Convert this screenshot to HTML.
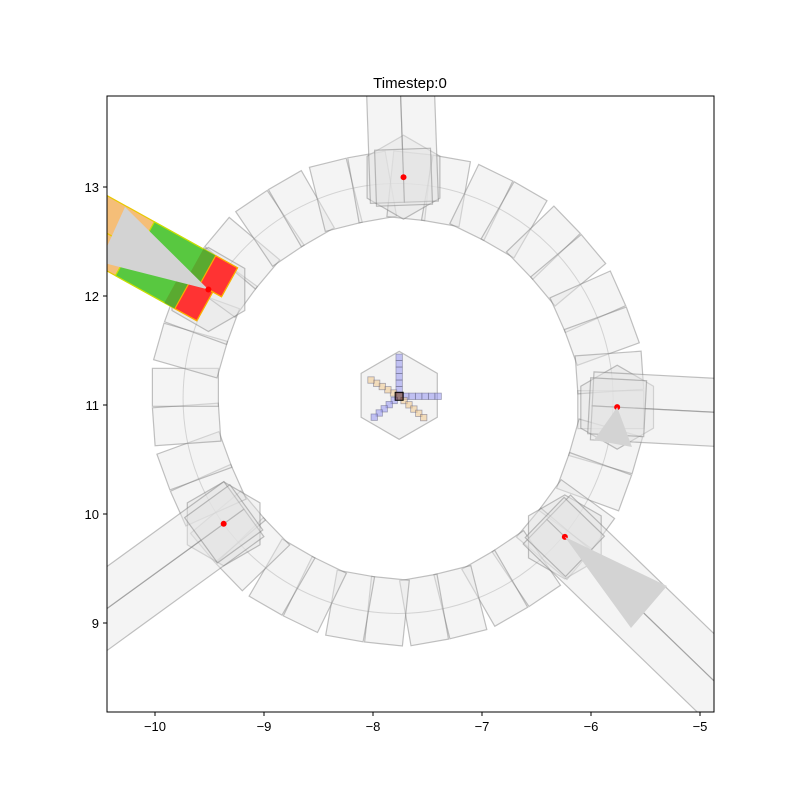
<!DOCTYPE html>
<html><head><meta charset="utf-8"><style>
html,body{margin:0;padding:0;background:#fff;}
svg{display:block;font-family:"Liberation Sans",sans-serif;}
</style></head><body>
<svg id="chart" width="800" height="800" viewBox="0 0 800 800">
<defs><clipPath id="clip"><rect x="107" y="96" width="607" height="616"/></clipPath></defs>
<rect x="0" y="0" width="800" height="800" fill="#fff"/>
<g id="plot" clip-path="url(#clip)"></g>
<rect x="107" y="96" width="607" height="616" fill="none" stroke="#000" stroke-width="1"/>
<g id="axes"></g>
<text x="410" y="88" text-anchor="middle" font-size="15">Timestep:0</text>
</svg>
<script>
const xTicks=[-10,-9,-8,-7,-6,-5];
const yTicks=[13,12,11,10,9];
const ringCenter=[-7.77,11.06];
const ringTileCount=36;
const nodeNames=['top','upper-left','right','lower-left','lower-right'];
const nodeX=[-7.72,-9.51,-5.76,-9.37,-6.24];
const nodeY=[13.09,12.06,10.98,9.91,9.79];
const roadAngle=[-92,209,3,144,44];
const roadLength=[1.1,1.5,1.2,1.9,2.1];
const centerNode=[-7.76,11.08];
const armAngles=[-90,0,140,-150,41];
const armCells=[6,6,5,5,5];
const armKinds=['b','b','b','o','o'];

const sx=v=>155+(v+10)*109;
const sy=v=>187-(v-13)*109;
const S=109;
const NS='http://www.w3.org/2000/svg';
const plot=document.getElementById('plot');
const axes=document.getElementById('axes');
function mk(tag,attrs,parent){const e=document.createElementNS(NS,tag);for(const k in attrs)e.setAttribute(k,attrs[k]);(parent||plot).appendChild(e);return e;}
function poly(pts,fill,stroke,name,parent){
  const e=mk('polygon',{points:pts.map(p=>p[0].toFixed(1)+','+p[1].toFixed(1)).join(' '),fill:fill,stroke:stroke,'stroke-width':1.2},parent);
  
  
  return e;
}
const TF='rgba(230,230,230,0.45)', TS='rgba(120,120,120,0.45)';
function rectAlong(cx,cy,ang,a0,a1,w0,w1){
  const r=ang*Math.PI/180, ux=Math.cos(r), uy=Math.sin(r), nx=-uy, ny=ux;
  return [[cx+ux*a0+nx*w0,cy+uy*a0+ny*w0],[cx+ux*a1+nx*w0,cy+uy*a1+ny*w0],[cx+ux*a1+nx*w1,cy+uy*a1+ny*w1],[cx+ux*a0+nx*w1,cy+uy*a0+ny*w1]];
}
function hex(cx,cy,r){const p=[];for(let i=0;i<6;i++){const a=(90+60*i)*Math.PI/180;p.push([cx+r*Math.cos(a),cy+r*Math.sin(a)]);}return p;}

const rcx=sx(ringCenter[0]), rcy=sy(ringCenter[1]);
for(let i=0;i<ringTileCount;i++){
  const a=360*i/ringTileCount+3;
  const r=a*Math.PI/180;
  const mx=rcx+Math.cos(r)*213, my=rcy+Math.sin(r)*213;
  poly(rectAlong(mx,my,a+(i%2?3:-3),-33,33,-19,19),TF,TS,'ring-tile');
}
const circ=mk('circle',{cx:rcx,cy:rcy,r:215,fill:'none',stroke:'rgba(150,150,150,0.35)','stroke-width':1});



for(let i=0;i<nodeNames.length;i++){
  const cx=sx(nodeX[i]), cy=sy(nodeY[i]), L=roadLength[i]*S;
  poly(hex(cx,cy,42),'rgba(225,225,225,0.4)',TS,'intersection-'+nodeNames[i]);
  if(nodeNames[i]==='upper-left'){
    const ang=roadAngle[i];
    poly(rectAlong(cx,cy,ang,-5,L,-33,0),'rgba(245,190,120,1)','#e8c800','lane-queue-upper');
    poly(rectAlong(cx,cy,ang,-5,88,-33,0),'#58c840','#c8e000','lane-green-upper');
    poly(rectAlong(cx,cy,ang,20,32,-33,0),'#5aaa30','none','lane-darkgreen-upper');
    poly(rectAlong(cx,cy,ang,-5,20,-33,0),'#ff3333','#ffaa00','lane-red-upper');
    poly(rectAlong(cx,cy,ang,-15,L,0,33),'rgba(245,190,120,1)','#e8c800','lane-queue-lower');
    poly(rectAlong(cx,cy,ang,-15,80,0,33),'#58c840','#c8e000','lane-green-lower');
    poly(rectAlong(cx,cy,ang,10,24,0,33),'#5aaa30','none','lane-darkgreen-lower');
    poly(rectAlong(cx,cy,ang,-15,10,0,33),'#ff3333','#ffaa00','lane-red-lower');
    poly([[cx,cy],[125,207],[100,262]],'#d3d3d3','none','signal-cone-upper-left');
  } else {
    poly(rectAlong(cx,cy,roadAngle[i],-25,L,-34,0),TF,TS,'road-lane-'+nodeNames[i]+'-a');
    poly(rectAlong(cx,cy,roadAngle[i],-25,L,0,34),TF,TS,'road-lane-'+nodeNames[i]+'-b');
    poly(rectAlong(cx,cy,roadAngle[i]+90,-28,28,-28,28),'rgba(225,225,225,0.35)',TS,'junction-box-'+nodeNames[i]);
  }
  const d=mk('circle',{cx:cx,cy:cy,r:3,fill:'red'});
  
  
}
poly([[sx(nodeX[2]),sy(nodeY[2])],[594,440],[632,447]],'#d3d3d3','none','signal-cone-right');
poly([[sx(nodeX[4]),sy(nodeY[4])],[667,586],[631,628]],'#d3d3d3','none','signal-cone-lower-right');

const ccx=sx(centerNode[0]), ccy=sy(centerNode[1]);
poly(hex(ccx,ccy-1,44),'rgba(235,235,235,0.6)','rgba(150,150,150,0.6)','center-hub');
armAngles.forEach((ang,j)=>{
  const r=ang*Math.PI/180;
  for(let k=1;k<=armCells[j];k++){
    const px=ccx+Math.cos(r)*k*6.5, py=ccy+Math.sin(r)*k*6.5;
    const e=mk('rect',{x:px-3.2,y:py-3.2,width:6.4,height:6.4,fill:armKinds[j]==='b'?'rgba(150,150,240,0.55)':'rgba(240,200,140,0.55)',stroke:'rgba(90,90,120,0.5)','stroke-width':0.8});
    
    
  }
});
const cm=mk('rect',{x:ccx-4,y:ccy-4,width:8,height:8,fill:'rgba(60,0,0,0.5)',stroke:'#000','stroke-width':1});



xTicks.forEach(v=>{
  const x=sx(v);
  const t=mk('line',{x1:x,y1:712,x2:x,y2:716,stroke:'#000'},axes);
  
  
  const l=mk('text',{x:x,y:731,'text-anchor':'middle','font-size':13},axes);
  l.textContent=(v<0?'\u2212'+(-v):v);
  
  
});
yTicks.forEach(v=>{
  const y=sy(v);
  const t=mk('line',{x1:103,y1:y,x2:107,y2:y,stroke:'#000'},axes);
  
  
  const l=mk('text',{x:99,y:y+5,'text-anchor':'end','font-size':13},axes);
  l.textContent=v;
  
  
});
</script>
</body></html>
